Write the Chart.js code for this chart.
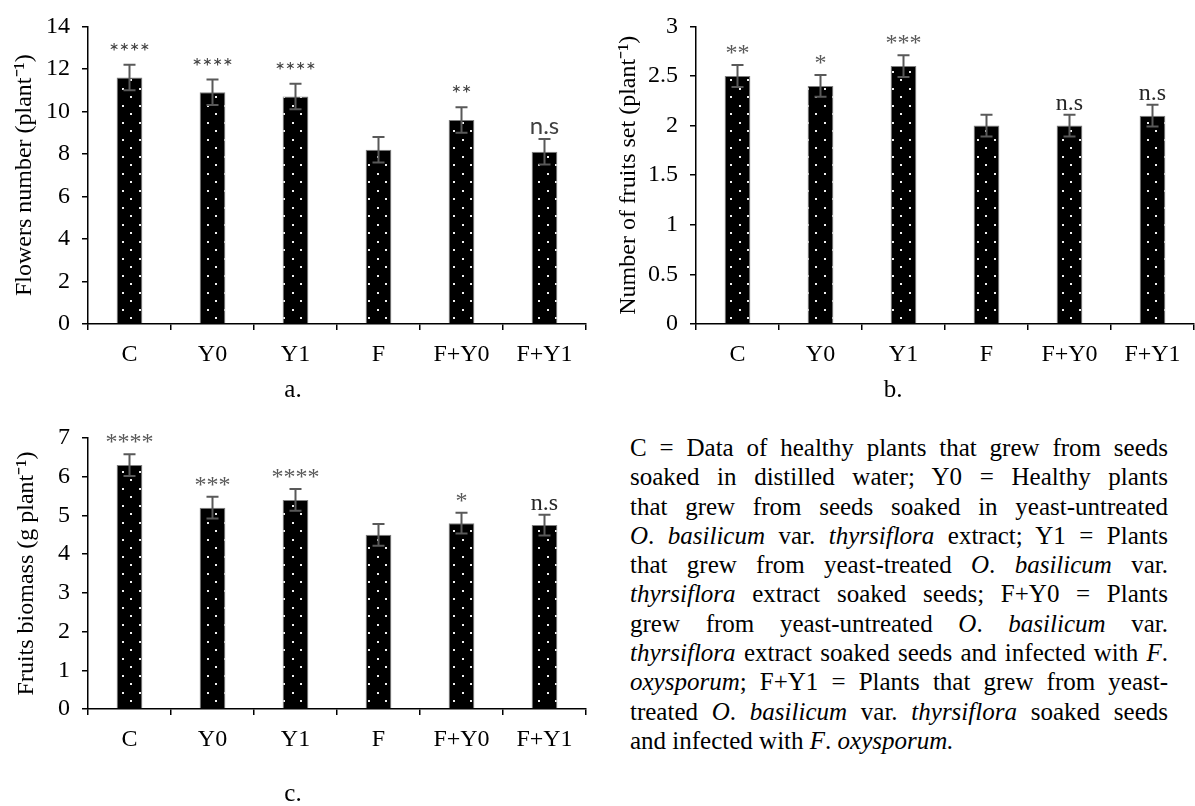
<!DOCTYPE html>
<html>
<head>
<meta charset="utf-8">
<script src="https://cdn.jsdelivr.net/npm/chart.js@4.4.0/dist/chart.umd.min.js"></script>
<style>
  body { margin: 0; background: #fff; width: 1195px; height: 806px; position: relative; overflow: hidden;
         font-family: 'Liberation Serif', 'Times New Roman', serif; color: #000; }
  canvas { position: absolute; }
  .cap { position: absolute; font-size: 25px; transform: translate(-50%, -50%); }
  #note { position: absolute; left: 630px; top: 433px; width: 538px; font-size: 25px; line-height: 29.3px; }
  #note div { text-align: justify; text-align-last: justify; }
  #note div.last { text-align-last: left; }
</style>
</head>
<body>
<canvas id="chartA" width="590" height="380" style="left:0;top:0"></canvas>
<canvas id="chartB" width="595" height="380" style="left:600px;top:0"></canvas>
<canvas id="chartC" width="590" height="365" style="left:0;top:400px"></canvas>
<div class="cap" style="left:293px;top:389px">a.</div>
<div class="cap" style="left:893px;top:389px">b.</div>
<div class="cap" style="left:293px;top:793px">c.</div>
<div id="note">
  <div>C = Data of healthy plants that grew from seeds</div>
  <div>soaked in distilled water; Y0 = Healthy plants</div>
  <div>that grew from seeds soaked in yeast-untreated</div>
  <div><i>O</i>. <i>basilicum</i> var. <i>thyrsiflora</i> extract; Y1 = Plants</div>
  <div>that grew from yeast-treated <i>O</i>. <i>basilicum</i> var.</div>
  <div><i>thyrsiflora</i> extract soaked seeds; F+Y0 = Plants</div>
  <div>grew from yeast-untreated <i>O</i>. <i>basilicum</i> var.</div>
  <div><i>thyrsiflora</i> extract soaked seeds and infected with <i>F</i>.</div>
  <div><i>oxysporum</i>; F+Y1 = Plants that grew from yeast-</div>
  <div>treated <i>O</i>. <i>basilicum</i> var. <i>thyrsiflora</i> soaked seeds</div>
  <div class="last">and infected with <i>F</i>. <i>oxysporum.</i></div>
</div>
<script>
const categories = ['C', 'Y0', 'Y1', 'F', 'F+Y0', 'F+Y1']

const flowers = [11.6, 10.9, 10.7, 8.2, 9.6, 8.1]
const flowersErr = [0.6, 0.6, 0.6, 0.6, 0.6, 0.6]
const flowersSig = ['****', '****', '****', '', '**', 'n.s']

const fruitsSet = [2.5, 2.4, 2.6, 2.0, 2.0, 2.1]
const fruitsSetErr = [0.11, 0.11, 0.11, 0.11, 0.11, 0.11]
const fruitsSetSig = ['**', '*', '***', '', 'n.s', 'n.s']

const biomass = [6.3, 5.2, 5.4, 4.5, 4.8, 4.75]
const biomassErr = [0.28, 0.28, 0.28, 0.28, 0.27, 0.27]
const biomassSig = ['****', '***', '****', '', '*', 'n.s']

const serif = "'Liberation Serif', 'Times New Roman', serif"

// black fill with small white dots, like the excel pattern
function dotPattern(ctx) {
    const c = document.createElement('canvas')
    c.width = 17
    c.height = 17
    const g = c.getContext('2d')
    g.fillStyle = '#000'
    g.fillRect(0, 0, 17, 17)
    g.fillStyle = '#f0f0f0'
    g.fillRect(3, 3, 2, 2)
    g.fillRect(11, 11, 2, 2)
    return ctx.createPattern(c, 'repeat')
}

const errorBars = {
    id: 'errorBars',
    afterDatasetsDraw(chart, args, opts) {
        const ctx = chart.ctx
        const ds = chart.data.datasets[0]
        const y = chart.scales.y
        ctx.save()
        chart.getDatasetMeta(0).data.forEach((bar, i) => {
            const top = y.getPixelForValue(ds.data[i] + opts.err[i])
            const bot = y.getPixelForValue(ds.data[i] - opts.err[i])
            ctx.strokeStyle = '#595959'
            ctx.lineWidth = 2
            ctx.beginPath()
            ctx.moveTo(bar.x, top); ctx.lineTo(bar.x, bot)
            ctx.moveTo(bar.x - 6, top); ctx.lineTo(bar.x + 6, top)
            ctx.moveTo(bar.x - 6, bot); ctx.lineTo(bar.x + 6, bot)
            ctx.stroke()
            const s = opts.sig[i]
            if (s) {
                ctx.font = opts.font
                ctx.fillStyle = s === 'n.s' ? opts.nsColor : opts.color
                ctx.textAlign = 'center'
                ctx.textBaseline = 'alphabetic'
                ctx.fillText(s, bar.x, top - 5)
            }
        })
        ctx.restore()
    }
}

function makeChart(id, values, err, sig, cfg) {
    const canvas = document.getElementById(id)
    const ctx = canvas.getContext('2d')
    return new Chart(canvas, {
        type: 'bar',
        data: {
            labels: categories,
            datasets: [{
                data: values,
                backgroundColor: dotPattern(ctx),
                borderColor: '#7f7f7f',
                borderWidth: 1,
                barPercentage: 0.31,
                categoryPercentage: 1,
            }]
        },
        options: {
            responsive: false,
            animation: false,
            layout: { padding: { top: cfg.padTop, right: cfg.padRight, left: 0, bottom: 0 } },
            plugins: {
                legend: { display: false },
                tooltip: { enabled: false },
                errorBars: { err: err, sig: sig, font: cfg.sigFont, color: cfg.sigColor, nsColor: cfg.nsColor },
            },
            scales: {
                x: {
                    grid: { drawOnChartArea: false, drawTicks: true, tickLength: 6, color: '#000', lineWidth: 1.5 },
                    border: { display: true, color: '#000', width: 1.5 },
                    ticks: { color: '#000', font: { family: serif, size: 24 }, padding: 10 },
                    afterFit: s => { s.height = cfg.xHeight },
                },
                y: {
                    min: 0,
                    max: cfg.max,
                    ticks: {
                        stepSize: cfg.step, color: '#000', font: { family: serif, size: 24 }, padding: 12,
                        callback: v => String(v),
                    },
                    grid: { drawOnChartArea: false, tickLength: 6, color: '#000', lineWidth: 1.5 },
                    border: { display: true, color: '#000', width: 1.5 },
                    title: {
                        display: true, text: cfg.title, color: '#000',
                        font: { family: serif, size: 24 }, padding: { top: cfg.titlePad, bottom: 0 }
                    },
                    afterFit: s => { s.width = cfg.yWidth },
                }
            }
        },
        plugins: [errorBars]
    })
}

makeChart('chartA', flowers, flowersErr, flowersSig, {
    max: 14, step: 2, title: 'Flowers number (plant⁻¹)',
    padTop: 20, padRight: 4, xHeight: 56, yWidth: 88, titlePad: 10,
    sigFont: "24px Lato, 'Open Sans', sans-serif", sigColor: '#404040', nsColor: '#404040',
})

makeChart('chartB', fruitsSet, fruitsSetErr, fruitsSetSig, {
    max: 3, step: 0.5, title: 'Number of fruits set (plant⁻¹)',
    padTop: 20, padRight: 1, xHeight: 56, yWidth: 96, titlePad: 14,
    sigFont: "24px " + serif, sigColor: '#595959', nsColor: '#262626',
})

makeChart('chartC', biomass, biomassErr, biomassSig, {
    max: 7, step: 1, title: 'Fruits biomass (g plant⁻¹)',
    padTop: 38, padRight: 4, xHeight: 56, yWidth: 88, titlePad: 12,
    sigFont: "24px " + serif, sigColor: '#595959', nsColor: '#262626',
})
</script>
</body>
</html>
